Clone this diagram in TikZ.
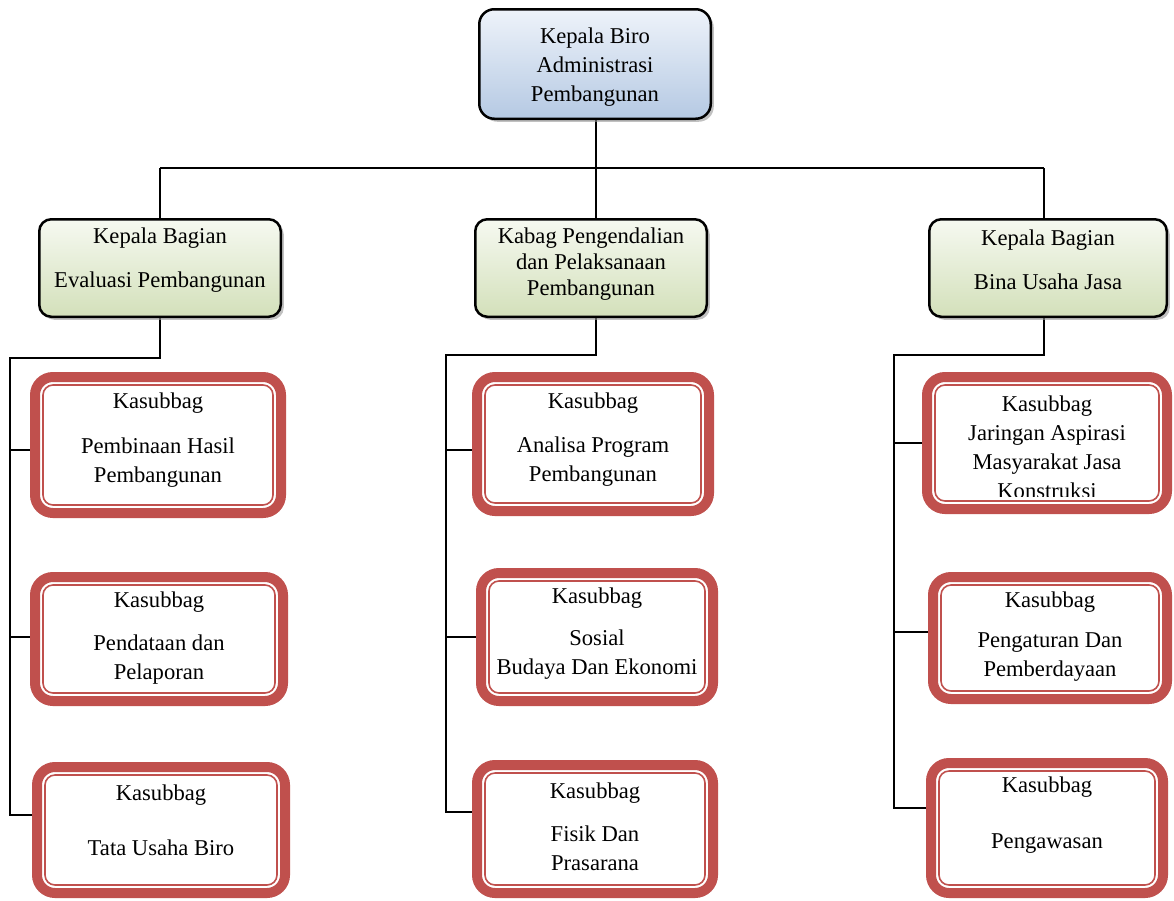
\documentclass[tikz,border=0pt]{standalone}
\usepackage{fontspec}
\setmainfont{Liberation Serif}
\usetikzlibrary{shadows,backgrounds}
\definecolor{redc}{HTML}{C0504D}
\definecolor{blueT}{HTML}{EEF3FA}
\definecolor{blueB}{HTML}{B5C9E3}
\definecolor{greenT}{HTML}{F6F9F1}
\definecolor{greenB}{HTML}{D3E0BA}
\newcommand\rbox[7]{%
  \node[redbox, minimum width={(#4-#2-10)*1pt}, minimum height={(#5-#3-10)*1pt}] (#1) at ({(#2+#4)/2},{(#3+#5)/2}) {};
  \draw[innerline] ([shift={(13pt,-13pt)}]#1.north west) rectangle ([shift={(-13pt,13pt)}]#1.south east);
  \node[txt] (#1t) at ({(#2+#4)/2},#6) {#7};}
\begin{document}
\begin{tikzpicture}[x=1pt,y=-1pt,
  conn/.style={line width=1.6pt, black},
  shbox/.style={draw=black, line width=2.5pt,
    drop shadow={shadow xshift=3pt, shadow yshift=-3pt, fill=black!40, opacity=.6}},
  topbox/.style={shbox, rounded corners=15pt, top color=blueT, bottom color=blueB},
  greenbox/.style={shbox, rounded corners=12pt, top color=greenT, bottom color=greenB},
  redbox/.style={draw=redc, line width=10pt, rounded corners=18pt, fill=white},
  innerline/.style={draw=redc, line width=1.6pt, rounded corners=10pt},
  txt/.style={align=center, font=\fontsize{22.6}{29}\selectfont, inner sep=0pt},
]
\useasboundingbox (0,0) rectangle (1174,900);

% top box
\node[topbox, minimum width=231.5pt, minimum height=109.5pt] (top) at (595,64) {};
\node[txt] (topt) at (595,67) {Kepala Biro\\Administrasi\\Pembangunan};

% green boxes
\node[greenbox, minimum width=241.5pt, minimum height=97.5pt] (gL) at (160,268) {};
\node[txt] (gLt) at (160,260) {Kepala Bagian\\[15pt]Evaluasi Pembangunan};
\node[greenbox, minimum width=231.5pt, minimum height=97.5pt] (gC) at (591,268) {};
\node[txt, font=\fontsize{22.6}{26}\selectfont] (gCt) at (591,264) {Kabag Pengendalian\\dan Pelaksanaan\\Pembangunan};
\node[greenbox, minimum width=237.5pt, minimum height=97.5pt] (gR) at (1048,268) {};
\node[txt] (gRt) at (1048,260) {Kepala Bagian\\[15pt]Bina Usaha Jasa};

% red boxes
\rbox{r11}{30}{372}{286}{518}{440}{Kasubbag\\[16pt]Pembinaan Hasil\\Pembangunan}
\rbox{r12}{30}{572}{288}{706}{638.5}{Kasubbag\\[14pt]Pendataan dan\\Pelaporan}
\rbox{r13}{32}{762}{290}{898}{820.5}{Kasubbag\\[26pt]Tata Usaha Biro}
\rbox{r21}{472}{372}{714}{516}{440}{Kasubbag\\[15pt]Analisa Program\\Pembangunan}
\rbox{r22}{476}{568}{718}{706}{634}{Kasubbag\\[13pt]Sosial\\Budaya Dan Ekonomi}
\rbox{r23}{472}{760}{718}{898}{827}{Kasubbag\\[14pt]Fisik Dan\\Prasarana}
\rbox{r31}{922}{372}{1172}{514}{447.5}{}
\begin{scope}
  \clip (935,385) rectangle (1160,496.5);
  \node[txt] (r31x) at (1047,447.5) {Kasubbag\\Jaringan Aspirasi\\Masyarakat Jasa\\Konstruksi};
\end{scope}
\rbox{r32}{928}{572}{1172}{704}{637}{Kasubbag\\[11pt]Pengaturan Dan\\Pemberdayaan}
\rbox{r33}{926}{758}{1168}{898}{815}{Kasubbag\\[27pt]Pengawasan}

% connectors
\coordinate (hL) at (160,168);
\coordinate (hC) at (596,168);
\coordinate (hR) at (1044,168);
\coordinate (aL) at (160,358);
\coordinate (sL) at (10,358);
\coordinate (eL) at (10,815);
\coordinate (tL1) at (10,450);
\coordinate (tL2) at (10,637);
\coordinate (aC) at (596,355);
\coordinate (sC) at (446,355);
\coordinate (eC) at (446,812);
\coordinate (tC1) at (446,450);
\coordinate (tC2) at (446,637);
\coordinate (aR) at (1044,355);
\coordinate (sR) at (894,355);
\coordinate (eR) at (894,808);
\coordinate (tR1) at (894,443);
\coordinate (tR2) at (894,632);
\begin{pgfonlayer}{background}
\fill[white] (0,0) rectangle (1174,900);
\draw[conn] (top.south -| hC) -- (gC.north -| hC);
\draw[conn] (hL) -- (hR);
\draw[conn] (hL) -- (gL.north -| hL);
\draw[conn] (hR) -- (gR.north -| hR);
\draw[conn] (gL.south -| aL) -- (aL) -- (sL) -- (eL) -- (eL -| r13.west);
\draw[conn] (tL1) -- (tL1 -| r11.west);
\draw[conn] (tL2) -- (tL2 -| r12.west);
\draw[conn] (gC.south -| aC) -- (aC) -- (sC) -- (eC) -- (eC -| r23.west);
\draw[conn] (tC1) -- (tC1 -| r21.west);
\draw[conn] (tC2) -- (tC2 -| r22.west);
\draw[conn] (gR.south -| aR) -- (aR) -- (sR) -- (eR) -- (eR -| r33.west);
\draw[conn] (tR1) -- (tR1 -| r31.west);
\draw[conn] (tR2) -- (tR2 -| r32.west);
\end{pgfonlayer}
\end{tikzpicture}
\end{document}
